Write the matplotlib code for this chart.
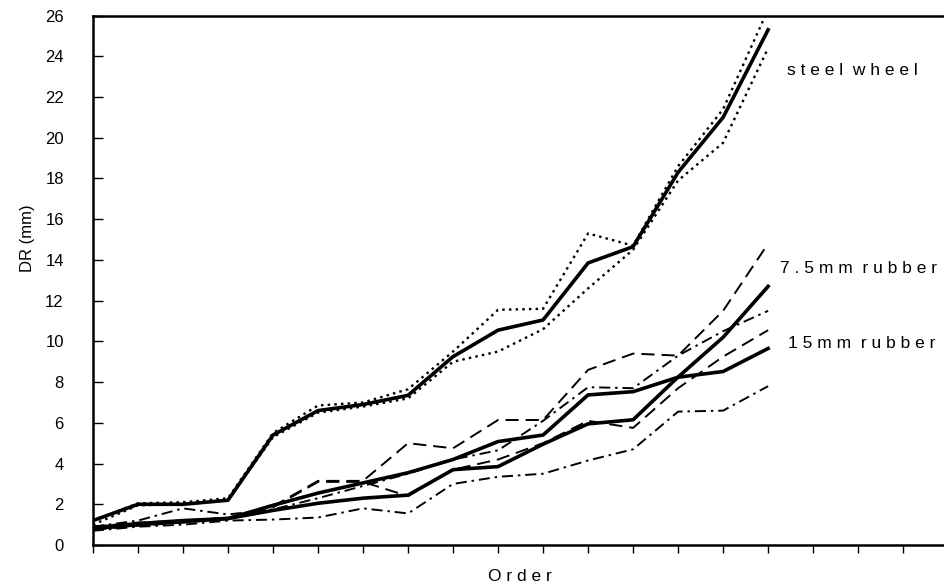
import matplotlib
matplotlib.use("Agg")
import matplotlib.pyplot as plt

plt.rcParams['font.family'] = ['Liberation Sans', 'DejaVu Sans']
plt.rcParams['lines.scale_dashes'] = False

order = list(range(16))

# steel wheel
steel_mean = [1.2, 2.0, 2.0, 2.2, 5.4, 6.6, 6.9, 7.35, 9.25, 10.55, 11.05, 13.85, 14.65, 18.3, 21.0, 25.3]
steel_hi   = [1.2, 2.05, 2.1, 2.3, 5.5, 6.85, 7.0, 7.65, 9.5, 11.55, 11.6, 15.3, 14.7, 18.6, 21.4, 26.3]
steel_lo   = [1.0, 1.95, 2.0, 2.2, 5.3, 6.5, 6.8, 7.2, 9.0, 9.5, 10.6, 12.6, 14.5, 17.9, 19.75, 24.4]

# 7.5mm rubber
r75_mean = [0.8, 1.0, 1.15, 1.3, 1.7, 2.05, 2.3, 2.45, 3.7, 3.85, 4.95, 5.95, 6.15, 8.25, 10.2, 12.7]
r75_a    = [0.9, 1.1, 1.2, 1.35, 1.9, 3.15, 3.15, 5.0, 4.75, 6.14, 6.14, 8.6, 9.4, 9.3, 11.5, 14.8]
r75_b    = [0.75, 0.95, 1.1, 1.3, 1.85, 3.1, 3.1, 2.4, 3.7, 4.2, 5.0, 6.1, 5.75, 7.7, 9.25, 10.55]

# 15mm rubber
r15_mean = [0.85, 1.05, 1.2, 1.3, 1.95, 2.55, 3.05, 3.55, 4.2, 5.08, 5.4, 7.37, 7.53, 8.24, 8.52, 9.65]
r15_a    = [0.9, 1.2, 1.8, 1.5, 1.75, 2.3, 2.9, 3.5, 4.2, 4.65, 6.1, 7.75, 7.7, 9.3, 10.5, 11.5]
r15_b    = [0.7, 0.9, 1.0, 1.2, 1.25, 1.35, 1.8, 1.55, 3.0, 3.35, 3.5, 4.15, 4.7, 6.55, 6.6, 7.8]

yticks = list(range(0, 27, 2))

dotted = (0, (1.8, 3.0))
dashed = (0, (9.5, 5.0))
dashdot = (0, (8.0, 3.5, 1.8, 3.5))

fig = plt.figure(figsize=(9.45, 5.88), dpi=100)
ax = fig.add_axes([0.0984, 0.0731, 0.9016, 0.9005])

ax.plot(order, steel_hi, color='black', lw=1.7, ls=dotted)
ax.plot(order, steel_lo, color='black', lw=1.7, ls=dotted)
ax.plot(order, steel_mean, color='black', lw=2.6)

ax.plot(order, r75_a, color='black', lw=1.4, ls=dashed)
ax.plot(order, r75_b, color='black', lw=1.4, ls=dashed)
ax.plot(order, r75_mean, color='black', lw=2.6)

ax.plot(order, r15_a, color='black', lw=1.4, ls=dashdot)
ax.plot(order, r15_b, color='black', lw=1.4, ls=dashdot)
ax.plot(order, r15_mean, color='black', lw=2.6)

ax.set_xlim(0, 18.93)
ax.set_ylim(0, 26)
ax.set_xticks(range(19))
ax.set_xticklabels([])
ax.set_yticks(yticks)
ax.set_yticklabels([str(v) for v in yticks], fontsize=12)
ax.tick_params(axis='y', direction='in', length=7, width=1, pad=21)
ax.tick_params(axis='x', direction='out', length=6, width=1)

for s in ['left', 'bottom', 'top']:
    ax.spines[s].set_linewidth(1.8)
ax.spines['right'].set_visible(False)

ax.set_ylabel("DR (mm)", fontsize=12)
ax.yaxis.set_label_coords(-0.068, 0.58)
ax.set_xlabel("O r d e r", fontsize=12.5)
ax.xaxis.set_label_coords(0.501, -0.045)

ax.text(15.42, 23.3, "s t e e l  w h e e l", fontsize=12.5, va='center')
ax.text(15.27, 13.6, "7 . 5 m m  r u b b e r", fontsize=12.5, va='center')
ax.text(15.44, 9.9, "1 5 m m  r u b b e r", fontsize=12.5, va='center')

plt.savefig("out.png", dpi=100)
